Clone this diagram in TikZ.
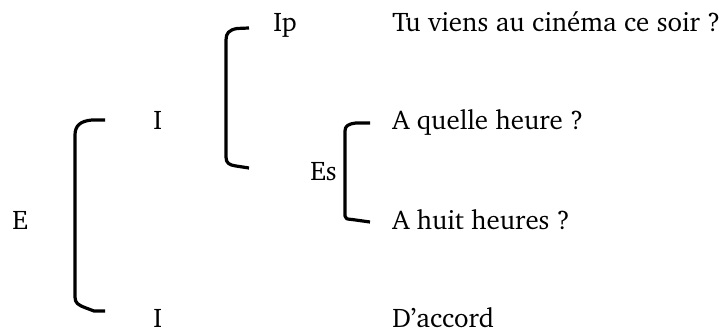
\documentclass[tikz,border=0pt]{standalone}
\usepackage[T1]{fontenc}
\usepackage{charter}
\begin{document}
\begin{tikzpicture}[x=0.75pt,y=-0.75pt,
  lbl/.style={anchor=base west,inner sep=0pt,font=\fontsize{20.2}{24}\selectfont},
  brk/.style={line width=2.4pt,line join=round}]
\useasboundingbox (0,0) rectangle (721,331);
% labels
\node[lbl] (E)  at (12,230) {E};
\node[lbl] (I1) at (153,130) {I};
\node[lbl] (I2) at (153,327) {I};
\node[lbl] (Ip) at (273,32) {Ip};
\node[lbl] (Es) at (310,181) {Es};
\node[lbl] (t1) at (392,32) {Tu viens au cin\'ema ce soir ?};
\node[lbl] (t2) at (392,130) {A quelle heure ?};
\node[lbl] (t3) at (392,230) {A huit heures ?};
\node[lbl] (t4) at (392,327) {D'accord};
% brackets
\draw[brk] (105,120) -- (92,120) .. controls (80,121) and (75,126) .. (75,135)
  -- (75,297) .. controls (75,303) and (78,305) .. (86,308) -- (94,311) -- (105,311);
\draw[brk] (249,28) -- (237,28.5) .. controls (229,30) and (226,33) .. (226,40)
  -- (226,157) .. controls (226,163) and (229,165) .. (236,166) -- (249,168);
\draw[brk] (370,123) -- (356,123) .. controls (348,124) and (345,126) .. (345,131)
  -- (345,216) .. controls (345,219) and (347,219) .. (352,219.5) -- (370,222);
\end{tikzpicture}
\end{document}
